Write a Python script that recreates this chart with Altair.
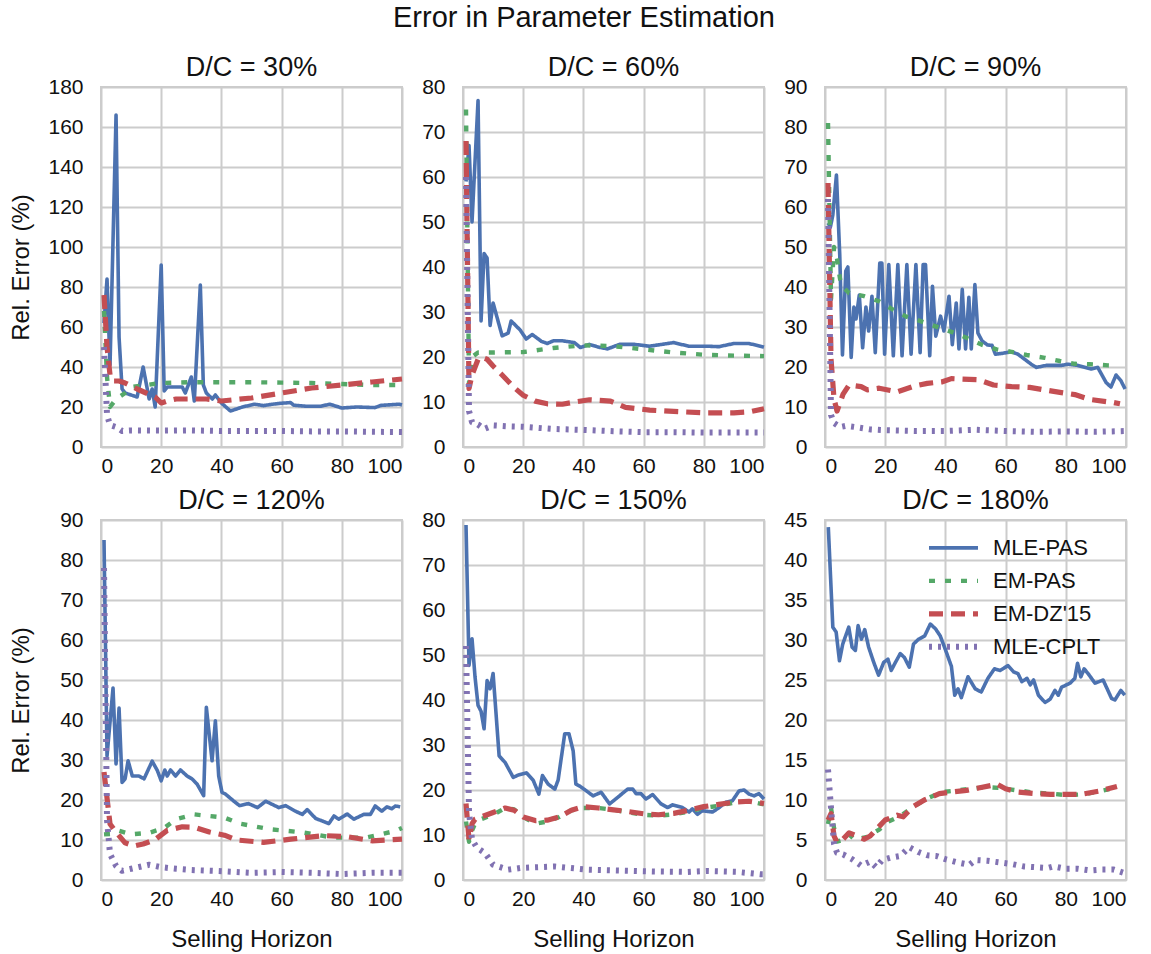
import altair as alt
import pandas as pd

FONT = "Liberation Sans"
SERIES = ["MLE-PAS", "EM-PAS", "EM-DZ'15", "MLE-CPLT"]
COLORS = ["#4c72b0", "#55a868", "#c44e52", "#8172b2"]
DASHES = [[1, 0], [6, 10], [14, 8], [3, 6]]
WIDTHS = [3.6, 6, 4, 3]

X_TICKS = [0, 20, 40, 60, 80, 100]

# ---------------- D/C = 30% ----------------
p1_blue_x = [1, 2, 3, 5, 6, 7, 8, 10, 12, 14, 16, 17, 18, 20, 21, 22, 24, 27, 28, 30, 31, 33, 34, 35, 37, 38, 40, 43, 47, 51, 54, 57, 60, 63, 64, 68, 73, 76, 80, 85, 91, 93, 99, 100]
p1_blue_y = [62, 84, 41, 166, 55, 29, 27, 26, 25, 40, 24, 29, 20, 91, 28, 30, 30, 30, 27, 35, 23, 81, 31, 27, 24, 26, 22, 18, 20, 21.4, 20.7, 21.4, 21.9, 22.2, 20.9, 20.4, 20.4, 21.4, 19.5, 20, 19.7, 20.8, 21.4, 21]
p1_green_x = [1, 2, 3, 5, 8, 10, 15, 20, 30, 40, 50, 60, 70, 80, 90, 100]
p1_green_y = [68, 35, 20, 24, 27, 30, 31, 32, 32.4, 32.4, 32.4, 32.2, 32, 31.5, 31, 31]
p1_red_x = [1, 2, 3, 4, 6, 8, 12, 15, 18, 20, 22, 25, 30, 35, 40, 50, 60, 70, 80, 90, 100]
p1_red_y = [76, 50, 36, 33, 33, 32, 29, 27, 25, 22, 23, 24, 24, 24, 23, 24.5, 27, 29.5, 31, 32.5, 34]
p1_purple_x = [1, 2, 3, 5, 7, 10, 20, 30, 40, 50, 60, 70, 80, 90, 100]
p1_purple_y = [50, 16, 11, 10, 8, 8.3, 8.2, 8.3, 8, 8, 8, 7.8, 7.8, 7.6, 7.5]

# ---------------- D/C = 60% ----------------
p2_blue_x = [1, 2, 3, 5, 6, 7, 8, 9, 10, 13, 15, 16, 19, 21, 23, 26, 28, 30, 33, 37, 39, 42, 45, 48, 52, 57, 62, 70, 75, 81, 85, 90, 95, 100]
p2_blue_y = [59, 67, 50, 77, 28, 43, 42, 27, 32, 24.7, 25.3, 28, 26, 24, 25, 23.5, 23, 23.6, 23.6, 23.2, 22.1, 22.8, 22.2, 21.8, 22.8, 22.8, 22.4, 23.2, 22.4, 22.4, 22.3, 23, 23, 22.2]
p2_green_x = [1, 2, 3, 5, 10, 20, 30, 40, 50, 60, 70, 80, 90, 100]
p2_green_y = [75, 14, 20, 21, 21, 21.1, 22, 22.6, 22.4, 21.7, 21, 20.5, 20.3, 20.2]
p2_red_x = [1, 2, 3, 5, 6, 8, 10, 13, 17, 20, 24, 28, 33, 37, 42, 49, 54, 62, 70, 80, 90, 95, 100]
p2_red_y = [68, 13, 16, 19.5, 20, 19.5, 18, 16, 13.2, 11.5, 10.2, 9.6, 9.5, 10, 10.5, 10.2, 8.8, 8.2, 7.9, 7.6, 7.6, 7.8, 8.5]
p2_purple_x = [1, 2, 3, 5, 7, 10, 15, 20, 30, 40, 50, 60, 70, 80, 90, 100]
p2_purple_y = [60, 8, 5.5, 5, 4, 4.8, 4.6, 4.5, 4, 3.8, 3.5, 3.3, 3.3, 3.2, 3.2, 3.2]

# ---------------- D/C = 90% ----------------
p3_blue_x = [1, 1.8, 2.6, 3.8, 4.9, 5.8, 6.9, 7.6, 8.7, 9.6, 10.3, 11.4, 12.5, 13.6, 14.5, 15.6, 16.7,
             18.2, 18.9, 19.8, 21.2, 22.7, 24.2, 25.6, 27.2, 28.6, 30.2, 31.6, 32.6, 33.4, 34.8,
             35.7, 36.8, 38.4, 39.5, 41.2, 42.3, 43.6, 44.5, 45.6, 46.7, 47.8, 48.6, 49.8, 50.8, 52.2,
             54, 55.5, 56.6, 58.8, 61.9, 64.1, 68.5, 70.2, 73.5, 78.5, 80.7, 84, 88.4, 90.6, 93.4, 95, 96.7, 98.3, 99.7]
p3_blue_y = [56, 55, 58, 68, 48, 23, 44, 45, 22.4, 35, 32, 38, 24.8, 35, 29, 37.7, 23.6,
             46, 46, 23.2, 45.6, 22.8, 45.6, 22.8, 45.6, 23.2, 45.6, 23.6, 45.6, 45.6, 22.8,
             40.2, 27.7, 32.7, 29, 37.7, 25.6, 36, 24.5, 39.4, 24.5, 37.4, 24.5, 40.6, 28.5, 26.5,
             25.5, 25.4, 23.2, 23.4, 23.8, 23.2, 20.7, 19.9, 20.4, 20.4, 20.7, 20.4, 19.5, 19.9, 16.1, 15, 18, 16.6, 14.5]
p3_green_x = [1, 2, 3, 4, 5, 6, 8, 13, 18, 22, 27, 32, 37, 42, 47, 52, 57, 62, 67, 73, 78, 83, 88, 94, 97]
p3_green_y = [81, 37, 50, 47, 42, 40, 38.5, 37.7, 36.4, 34.6, 32.6, 31.4, 30.1, 28.8, 27.3, 25.6, 24.4, 23.8, 23, 22.3, 21.5, 20.8, 20.7, 20.4, 20.3]
p3_red_x = [1, 2, 3, 4, 6, 8, 12, 14, 18, 24, 30, 34, 39, 42, 48, 51, 56, 62, 68, 76, 83, 88, 96, 98]
p3_red_y = [66, 22, 12, 9, 13.2, 15.5, 15.1, 14.3, 14.7, 13.8, 15.3, 15.9, 16.3, 17.1, 16.9, 16.8, 15.5, 15.1, 14.9, 13.9, 13.1, 11.9, 11.1, 10.8]
p3_purple_x = [1, 2, 3, 5, 7, 10, 15, 20, 30, 40, 50, 60, 70, 80, 90, 100]
p3_purple_y = [62, 8, 6, 5, 5.3, 5, 4.4, 4.2, 4, 4, 4.3, 4, 3.8, 3.9, 3.8, 4]

# ---------------- D/C = 120% ----------------
p4_blue_x = [1, 2, 4, 5, 6, 7, 8, 9, 10.4, 12.6, 14.3, 17, 18.7, 20, 21.2, 22, 23.1, 24.8, 26.4, 28.6, 30.2, 31.9, 34.1,
             35, 36.9, 38, 39.1, 40.2, 41.3, 44, 46, 49, 52, 54.7, 56.9, 59.1, 61.3, 64.6, 66.9, 68.5, 71.3, 75.7,
             77.4, 79, 81.8, 84, 87.3, 89.5, 91.1, 93.3, 95, 96.6, 97.8, 99.4]
p4_blue_y = [85, 31, 48, 29, 43, 24.4, 25.3, 29.8, 26, 26, 25.3, 29.7, 27.4, 24.8, 27.5, 26, 27.5, 26, 27.5, 26, 25.3, 24, 21.1,
             43.2, 29.8, 39.8, 26, 21.9, 21.5, 19.8, 18.6, 19.1, 18.1, 19.7, 18.9, 18.1, 18.6, 17.2, 16.4, 17.6, 15.4, 14.1,
             16, 15.2, 16.5, 15.2, 16.4, 16.4, 18.5, 17.2, 18.3, 17.8, 18.5, 18.3]
p4_green_x = [1, 3, 6, 10, 16, 21, 25, 31, 36, 41, 46, 56, 67, 77, 88, 98, 100]
p4_green_y = [11.4, 11.5, 12.3, 11.4, 11.8, 13, 15.2, 16.4, 16, 15.6, 14.1, 12.7, 11.9, 10.6, 10.6, 12.3, 13]
p4_red_x = [1, 3, 5, 8, 11, 14, 18, 22, 27, 31, 36, 41, 45, 54, 63, 74, 82, 90, 100]
p4_red_y = [27, 14, 12, 9.3, 8.5, 9, 10.1, 12.4, 13.3, 13.2, 12, 11.2, 10, 9.4, 10.2, 11.1, 10.8, 9.8, 10.2]
p4_purple_x = [1, 2, 3, 5, 7, 10, 13, 16, 20, 25, 30, 40, 50, 60, 70, 80, 90, 100]
p4_purple_y = [78, 15, 6.5, 3.5, 2.3, 2.8, 3.3, 3.8, 3.2, 2.8, 2.5, 2.2, 1.8, 2, 1.8, 1.5, 1.8, 1.8]

# ---------------- D/C = 150% ----------------
p5_blue_x = [1, 2, 3, 4, 5, 6, 7, 8, 9, 10, 12, 14, 16.7, 18.3, 21.1, 23.3, 25.2, 26.4, 28.3, 30.5, 31.6, 33.8, 35.2,
             36.6, 37.5, 38.7, 41, 43.2, 45.9, 48.7, 52, 54.7, 56.4, 57.5, 59.1, 60.8, 63, 65.8, 68, 69.6, 72.9, 75.1,
             76.2, 77.9, 79.5, 82.9, 85.1, 87.3, 89.5, 91.7, 93.4, 95, 96.7, 98.3, 100]
p5_blue_y = [78.9, 47.7, 53.6, 45.1, 38.8, 37.5, 33.6, 44.3, 42.5, 45.9, 27.6, 26.1, 22.8, 23.3, 23.8, 22.2, 19.1, 23.2, 21.3, 20.2, 22.2, 32.5, 32.5,
             28.7, 21.3, 20.9, 19.8, 18.7, 19.5, 16.9, 18.7, 20.2, 20.2, 19.2, 19.2, 18, 19, 16.9, 16.1, 16.7, 16.1, 15.1,
             15.8, 14.6, 15.4, 15.1, 16.1, 17.3, 17.6, 19.8, 20, 19.1, 18.7, 19.2, 18]
p5_green_x = [1, 2, 3, 4, 6, 10, 14, 17, 20, 24, 28, 32, 36, 40, 45, 50, 55, 60, 65, 70, 75, 80, 85, 90, 95, 100]
p5_green_y = [13, 8.5, 11, 12.5, 13.5, 14.5, 16, 15.7, 14, 12.5, 13, 14, 15.5, 16, 16, 15.6, 15, 14.5, 14.3, 14.6, 15.2, 16, 16.5, 17.2, 17.5, 16.8]
p5_red_x = [1, 2, 3, 4, 6, 10, 14, 17, 20, 24, 28, 32, 36, 40, 45, 50, 55, 60, 65, 70, 75, 80, 85, 90, 95, 100]
p5_red_y = [17, 9, 12.5, 13.5, 14, 15, 16, 15.5, 14, 13.2, 13.3, 14, 15.5, 16.3, 16, 15.6, 15.2, 14.7, 14.5, 14.8, 15.5, 16.3, 16.8, 17.3, 17.5, 17]
p5_purple_x = [1, 2, 3, 4.6, 7.3, 10, 15, 19.4, 30.5, 41.5, 52.5, 63.6, 74.6, 81.3, 91, 98.7, 100]
p5_purple_y = [52, 15, 9, 7.2, 6, 3.4, 2.3, 2.7, 3, 2.3, 2.1, 1.9, 1.8, 2, 1.8, 1.3, 1.3]

# ---------------- D/C = 180% ----------------
p6_blue_x = [1.1, 2.6, 3.7, 4.8, 5.9, 7.9, 9, 10.1, 11, 12.1, 13.2, 14.5, 16.2, 17.8, 19.5, 20.9, 22, 23.4, 25, 26.4,
             28, 29.4, 31.1, 33.1, 35, 36.7, 38.3, 40, 42, 43.1, 44.2, 45.3, 47.5, 49.9, 51.9, 54.1, 56.3, 58.2,
             60.8, 62.7, 64.1, 65.4, 67.1, 68.2, 69.3, 70.9, 73.1, 74.8, 76.4, 77.5, 78.6, 81.4, 83, 83.9, 85,
             86.1, 87.4, 89.7, 92.4, 95.2, 96.3, 98.3, 99.6]
p6_blue_y = [44.1, 31.6, 31, 27.4, 29.5, 31.6, 29.1, 28.7, 31.8, 30.1, 31.3, 29.1, 27.2, 25.6, 27.2, 27.6, 26.2, 27.2, 28.3, 27.8,
             26.6, 29.5, 30.1, 30.5, 32, 31.4, 30.5, 28.8, 26.7, 23.1, 23.9, 22.8, 25.4, 23.9, 23.5, 25.2, 26.4, 26.2,
             26.8, 26, 25.8, 24.8, 25.2, 24.4, 25, 23.1, 22.2, 22.6, 23.7, 23.1, 24.1, 24.6, 25.2, 27.1, 25.4,
             26.4, 25.8, 24.6, 25, 22.7, 22.5, 23.7, 23.1]
p6_green_x = [1, 2, 3, 4, 6, 8, 10, 14, 18, 21, 25, 30, 34, 39, 44, 48, 54, 58, 62, 70, 75, 80, 86, 90, 95, 97]
p6_green_y = [7, 9, 6.5, 4.8, 5, 5.7, 5, 5.4, 6.3, 7.3, 8, 9.3, 10.2, 11, 11.2, 11.4, 11.6, 11.5, 11.3, 10.9, 10.8, 10.6, 10.7, 11, 11.4, 11.7]
p6_red_x = [1, 2, 3, 4, 6, 8, 10, 13, 15, 18, 20, 24, 26, 29, 33, 38, 42, 47, 51, 55, 57, 60, 64, 70, 75, 81, 85, 91, 97]
p6_red_y = [7.5, 8.3, 5.5, 4.7, 5.1, 5.9, 5.6, 5.1, 5.5, 6.7, 7.5, 8.1, 7.9, 9.1, 10, 10.8, 11, 11.2, 11.5, 11.8, 12, 11.4, 11, 10.8, 10.7, 10.7, 10.7, 11.1, 11.7]
p6_purple_x = [1, 2, 3, 4, 6, 9, 12, 15, 17, 19, 22, 25, 28, 31, 34, 37, 40, 44, 48, 50, 54, 58, 62, 66, 70, 74, 76, 80, 84, 88, 92, 96, 100]
p6_purple_y = [13.8, 9, 4.5, 3.4, 3.2, 2.6, 1.8, 2.3, 1.6, 2.5, 2.8, 3, 4.1, 3.5, 3.1, 3, 2.6, 2.2, 1.9, 2.5, 2.4, 2.2, 2, 1.7, 1.6, 1.5, 1.7, 1.4, 1.4, 1.2, 1.3, 1.3, 0.8]

PANELS = [
    ("D/C = 30%", 180, 20, [(p1_blue_x, p1_blue_y), (p1_green_x, p1_green_y), (p1_red_x, p1_red_y), (p1_purple_x, p1_purple_y)]),
    ("D/C = 60%", 80, 10, [(p2_blue_x, p2_blue_y), (p2_green_x, p2_green_y), (p2_red_x, p2_red_y), (p2_purple_x, p2_purple_y)]),
    ("D/C = 90%", 90, 10, [(p3_blue_x, p3_blue_y), (p3_green_x, p3_green_y), (p3_red_x, p3_red_y), (p3_purple_x, p3_purple_y)]),
    ("D/C = 120%", 90, 10, [(p4_blue_x, p4_blue_y), (p4_green_x, p4_green_y), (p4_red_x, p4_red_y), (p4_purple_x, p4_purple_y)]),
    ("D/C = 150%", 80, 10, [(p5_blue_x, p5_blue_y), (p5_green_x, p5_green_y), (p5_red_x, p5_red_y), (p5_purple_x, p5_purple_y)]),
    ("D/C = 180%", 45, 5, [(p6_blue_x, p6_blue_y), (p6_green_x, p6_green_y), (p6_red_x, p6_red_y), (p6_purple_x, p6_purple_y)]),
]

PW, PH = 301, 360


def make_panel(idx):
    title, ymax, ystep, series_data = PANELS[idx]
    rows = []
    for name, (xs, ys) in zip(SERIES, series_data):
        for xv, yv in zip(xs, ys):
            rows.append({"x": xv, "y": yv, "series": name})
    df = pd.DataFrame(rows)
    show_legend = idx == 5
    leg = alt.Legend(title=None, orient="none", legendX=101, legendY=11.5) if show_legend else None
    yvals = list(range(0, ymax + 1, ystep))
    y_title = "Rel. Error (%)" if idx in (0, 3) else None
    x_title = "Selling Horizon" if idx >= 3 else None
    layers = []
    for s in SERIES:
        layers.append(
            alt.Chart(df)
            .transform_filter(alt.FieldEqualPredicate(field="series", equal=s))
            .mark_line(strokeJoin="round")
            .encode(
                x=alt.X("x:Q", scale=alt.Scale(domain=[0, 100], nice=False),
                        axis=alt.Axis(values=X_TICKS, title=x_title)),
                y=alt.Y("y:Q", scale=alt.Scale(domain=[0, ymax], nice=False),
                        axis=alt.Axis(values=yvals, title=y_title)),
                color=alt.Color("series:N", scale=alt.Scale(domain=SERIES, range=COLORS), legend=leg),
                strokeDash=alt.StrokeDash("series:N", scale=alt.Scale(domain=SERIES, range=DASHES), legend=leg),
                strokeWidth=alt.StrokeWidth("series:N", scale=alt.Scale(domain=SERIES, range=WIDTHS), legend=leg),
            )
        )
    return alt.layer(*layers).properties(
        width=PW, height=PH,
        title=alt.TitleParams(title, fontSize=27, offset=-6, font=FONT, fontWeight="normal", color="#111"),
    )


chart = alt.concat(
    *[make_panel(i) for i in range(6)],
    columns=3, spacing={"row": 73, "column": 61}, bounds="flush",
).resolve_scale(
    color="independent", strokeDash="independent", strokeWidth="independent"
).resolve_legend(
    color="independent", strokeDash="independent", strokeWidth="independent"
).properties(
    title=alt.TitleParams("Error in Parameter Estimation", fontSize=29, font=FONT, fontWeight="normal",
                          anchor="middle", offset=20, dx=15, color="#111"),
    padding={"left": 8, "top": 4, "right": 5, "bottom": 0},
).configure_view(
    stroke="#cccccc", strokeWidth=2
).configure_axis(
    gridColor="#cccccc", gridWidth=2, domain=False, ticks=False,
    labelFont=FONT, labelFontSize=21, labelColor="#111",
    titleFont=FONT, titleFontSize=24, titleFontWeight="normal", titleColor="#111",
).configure_axisY(
    labelPadding=18, minExtent=53, maxExtent=53, titlePadding=15,
).configure_axisX(
    labelPadding=8, titlePadding=18,
).configure_legend(
    symbolType="stroke", symbolSize=2400, labelFont=FONT, labelFontSize=22, labelColor="#111",
    rowPadding=0, clipHeight=32.7, labelOffset=12, padding=0,
)

chart.save("out.html", embed_options={"renderer": "svg", "actions": False})
